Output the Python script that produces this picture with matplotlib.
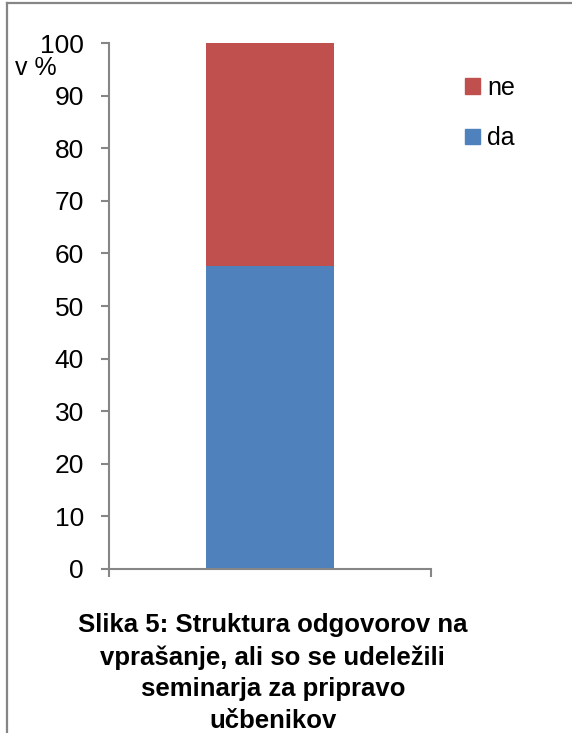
## Struktura odgovorov - zložen stolpec (da / ne)

import matplotlib.pyplot as plt
from matplotlib.lines import Line2D
from matplotlib.patches import Patch

plt.rcParams['font.family'] = ['Liberation Sans', 'DejaVu Sans']

# Podatki
kategorije = ['']
da = [57.7]
ne = [42.3]
y_ticks = [0, 10, 20, 30, 40, 50, 60, 70, 80, 90, 100]

barva_da = '#4f81bd'
barva_ne = '#c0504d'
siva = '#868686'

fig = plt.figure(figsize=(5.72, 7.33), dpi=100)
ax = fig.add_axes([0.1906, 0.2241, 0.5629, 0.7168])

x = range(len(kategorije))
ax.bar(x, da, width=0.4, color=barva_da)
ax.bar(x, ne, width=0.4, bottom=da, color=barva_ne)

# Osi
ax.set_xlim(-0.5, 0.5)
ax.set_ylim(0, 100)
ax.set_yticks(y_ticks)
ax.set_xticks([-0.5, 0.5])
ax.set_xticklabels(['', ''])
ax.tick_params(axis='y', labelsize=19, length=6, width=1.5, color=siva, pad=12)
ax.tick_params(axis='x', length=6, width=1.5, color=siva)
for s in ['top', 'right']:
    ax.spines[s].set_visible(False)
for s in ['left', 'bottom']:
    ax.spines[s].set_color(siva)
    ax.spines[s].set_linewidth(1.5)

fig.text(15 / 572, 1 - 68 / 733, 'v %', fontsize=18, ha='left', va='center')

# Legenda
handles = [Patch(color=barva_ne, label='ne'), Patch(color=barva_da, label='da')]
fig.legend(handles=handles, loc='upper left', bbox_to_anchor=(465 / 572, 1 - 76 / 733),
           frameon=False, fontsize=18, handlelength=0.6, handleheight=0.6,
           handletextpad=0.3, labelspacing=1.05, borderpad=0, borderaxespad=0)

# Naslov
fig.text(0.477, 1 - 673 / 733,
         'Slika 5: Struktura odgovorov na\nvprašanje, ali so se udeležili\nseminarja za pripravo\nučbenikov',
         fontsize=18.5, fontweight='bold', ha='center', va='center', linespacing=1.4)

# Okvir
fig.add_artist(Line2D([7 / 572, 1], [1 - 3 / 733, 1 - 3 / 733], color=siva, lw=1.6))
fig.add_artist(Line2D([7 / 572, 7 / 572], [0, 1 - 3 / 733], color=siva, lw=1.6))

plt.savefig('out.png', dpi=100)
